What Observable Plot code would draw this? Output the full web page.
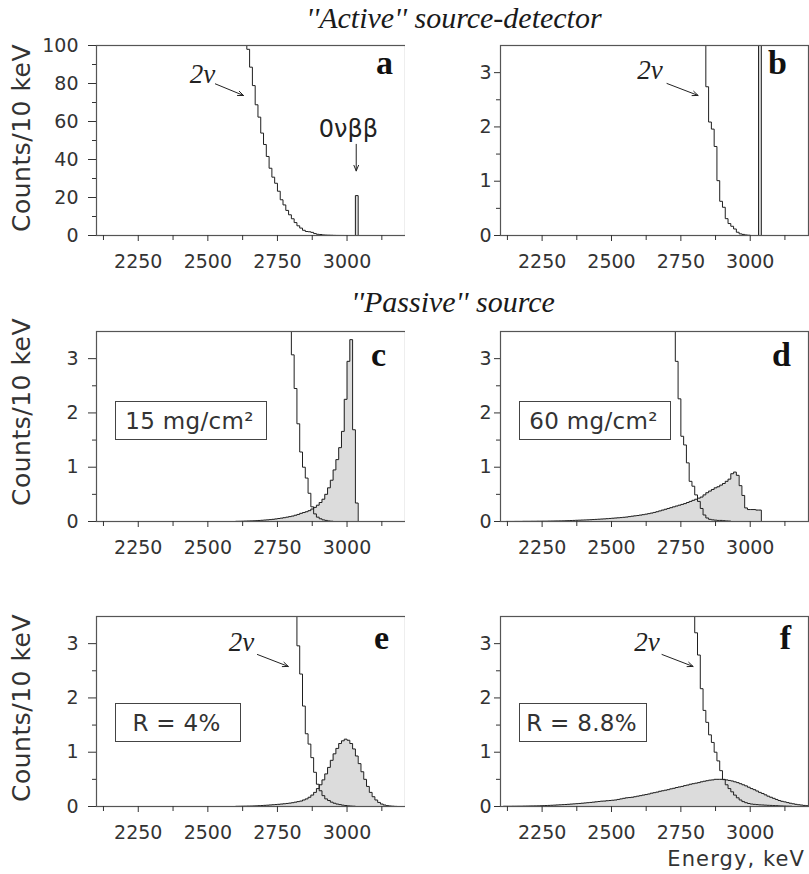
<!DOCTYPE html>
<html>
<head>
<meta charset="utf-8">
<script src="https://cdn.jsdelivr.net/npm/d3@7"></script>
<script src="https://cdn.jsdelivr.net/npm/@observablehq/plot@0.6"></script>
<style>
  html, body { margin: 0; padding: 0; background: #fff; }
  #chart { position: relative; width: 809px; height: 874px; overflow: hidden; background: #fff; }
  .title { position: absolute; width: 808px; text-align: center; font-family: "Liberation Serif", "Times New Roman", serif; font-style: italic; font-size: 30px; line-height: 1; color: #1a1a1a; white-space: nowrap; }
  .panel { position: absolute; }
  .panel svg { display: block; overflow: visible; }
  #xlabel { position: absolute; right: 4px; top: 849px; font-family: "DejaVu Sans", sans-serif; font-size: 21px; line-height: 1; letter-spacing: 1.1px; color: #333; white-space: nowrap; }
</style>
</head>
<body>
<div id="chart"></div>
<script>
// ---------- texts and ticks ----------
const titles = ["''Active'' source-detector", "''Passive'' source"];
const yLabel = "Counts/10 keV";
const xLabel = "Energy, keV";
const panelLetters = ["a", "b", "c", "d", "e", "f"];
const boxLabels = ["15 mg/cm²", "60 mg/cm²", "R = 4%", "R = 8.8%"];
const nuLabel = "2ν";
const zeroNuLabel = "0νββ";

const BIN = 10; // keV per histogram bin
const xDomain = [2100, 3210];
const xTickLabels = [2250, 2500, 2750, 3000];
const xMinorTicks = [2125, 2375, 2625, 2875, 3125];
const yTicks100 = [0, 20, 40, 60, 80, 100];
const yMinor100 = [10, 30, 50, 70, 90];
const yTicks35 = [0, 1, 2, 3];
const yMinor35 = [0.5, 1.5, 2.5];

// ---------- histogram data (counts per 10 keV bin, first bin edge given) ----------
// "Active" detector: 2nu spectrum (panels a, b)
const twoNuActiveStart = 2620;
const twoNuActiveCounts = [112, 104, 98, 88.6, 78.9, 68.8, 62.3, 53.9, 47.9, 41.6,
  35.4, 30.7, 27.5, 23.3, 18.8, 16.1, 13.2, 10.9, 8.8, 6.8,
  5.1, 3.9, 2.74, 2.09, 1.96, 1.64, 1.01, 0.63, 0.52, 0.31,
  0.22, 0.17, 0.12, 0.06, 0.03, 0.02, 0.01, 0.005];
// "Active" detector: 0nu peak
const zeroNuActiveStart = 3030;
const zeroNuActiveCounts = [21];

// Passive source 15 mg/cm2 (panel c)
const twoNu15Start = 2780;
const twoNu15Counts = [4.2, 3.8, 3.07, 2.45, 1.8, 1.28, 1.0, 0.8, 0.52, 0.27,
  0.14, 0.08, 0.05, 0.03, 0.02, 0.01, 0.005];
const zeroNu15Start = 2600;
const zeroNu15Counts = [0.003, 0.004, 0.005, 0.007, 0.009, 0.011, 0.013, 0.016, 0.019, 0.022,
  0.026, 0.03, 0.035, 0.04, 0.047, 0.055, 0.062, 0.07, 0.08, 0.09,
  0.1, 0.115, 0.13, 0.15, 0.165, 0.18, 0.2, 0.23, 0.26, 0.3,
  0.35, 0.41, 0.5, 0.62, 0.76, 0.95, 1.14, 1.36, 1.66, 2.25,
  2.95, 3.35, 1.69, 0.34];

// Passive source 60 mg/cm2 (panel d)
const twoNu60Start = 2710;
const twoNu60Counts = [4.3, 3.8, 2.95, 2.26, 1.57, 1.41, 1.08, 0.74, 0.65, 0.49,
  0.37, 0.24, 0.12, 0.065, 0.04, 0.03, 0.025, 0.02, 0.02, 0.015, 0.01, 0.008];
const zeroNu60Start = 2120;
const zeroNu60Counts = [0.001, 0.001, 0.001, 0.002, 0.002, 0.002, 0.003, 0.003, 0.003, 0.004,
  0.004, 0.005, 0.005, 0.006, 0.006, 0.007, 0.008, 0.009, 0.01, 0.011,
  0.012, 0.014, 0.016, 0.018, 0.02, 0.022, 0.024, 0.026, 0.028, 0.03,
  0.033, 0.036, 0.039, 0.042, 0.045, 0.048, 0.052, 0.056, 0.06, 0.064,
  0.068, 0.072, 0.077, 0.082, 0.09, 0.097, 0.104, 0.11, 0.118, 0.126,
  0.135, 0.145, 0.155, 0.167, 0.18, 0.195, 0.21, 0.225, 0.24, 0.255,
  0.27, 0.285, 0.3, 0.315, 0.33, 0.35, 0.37, 0.39, 0.41, 0.43,
  0.45, 0.49, 0.53, 0.56, 0.59, 0.62, 0.64, 0.67, 0.7, 0.74,
  0.78, 0.88, 0.91, 0.85, 0.66, 0.48, 0.25, 0.22, 0.22, 0.22,
  0.21, 0.21];

// Resolution R = 4% (panel e)
const twoNuR4Start = 2800;
const twoNuR4Counts = [4.2, 3.7, 2.96, 2.44, 1.85, 1.34, 1.15, 0.9, 0.63, 0.41,
  0.29, 0.2, 0.14, 0.11, 0.08, 0.06, 0.045, 0.035, 0.025, 0.018, 0.012, 0.008, 0.005];
const zeroNuR4Start = 2600;
const zeroNuR4Counts = [0.003, 0.004, 0.005, 0.006, 0.007, 0.008, 0.01, 0.012, 0.015, 0.018,
  0.021, 0.024, 0.028, 0.032, 0.036, 0.04, 0.045, 0.05, 0.056, 0.062,
  0.07, 0.08, 0.09, 0.1, 0.12, 0.14, 0.17, 0.21, 0.26, 0.33,
  0.4, 0.49, 0.6, 0.72, 0.85, 0.97, 1.07, 1.16, 1.21, 1.24,
  1.22, 1.16, 1.06, 0.93, 0.79, 0.64, 0.5, 0.37, 0.26, 0.18,
  0.12, 0.075, 0.045, 0.027, 0.016, 0.009, 0.005, 0.002];

// Resolution R = 8.8% (panel f)
const twoNuR88Start = 2780;
const twoNuR88Counts = [4.3, 3.8, 3.2, 2.79, 2.17, 1.77, 1.55, 1.32, 1.18, 1.0,
  0.84, 0.66, 0.5, 0.4, 0.33, 0.27, 0.21, 0.16, 0.12, 0.09,
  0.07, 0.055, 0.045, 0.04, 0.035, 0.03, 0.028, 0.025, 0.022, 0.02,
  0.017, 0.015, 0.012, 0.01, 0.008, 0.006, 0.005];
const zeroNuR88Start = 2110;
const zeroNuR88Counts = [0.004, 0.004, 0.004, 0.005, 0.005, 0.006, 0.006, 0.007, 0.008, 0.009, 0.01,
  0.011, 0.012, 0.014, 0.016, 0.018, 0.02, 0.022, 0.025, 0.028, 0.031,
  0.034, 0.037, 0.04, 0.044, 0.048, 0.052, 0.056, 0.06, 0.065, 0.07,
  0.075, 0.08, 0.086, 0.092, 0.098, 0.1, 0.106, 0.11, 0.115, 0.12,
  0.13, 0.14, 0.15, 0.16, 0.165, 0.17, 0.18, 0.19, 0.2, 0.21,
  0.22, 0.23, 0.245, 0.255, 0.265, 0.28, 0.29, 0.3, 0.31, 0.325,
  0.335, 0.35, 0.36, 0.37, 0.385, 0.395, 0.41, 0.42, 0.43, 0.44,
  0.455, 0.465, 0.475, 0.485, 0.49, 0.5, 0.5, 0.5, 0.495, 0.49,
  0.48, 0.47, 0.455, 0.44, 0.42, 0.4, 0.38, 0.355, 0.33, 0.31,
  0.285, 0.26, 0.24, 0.215, 0.19, 0.17, 0.15, 0.13, 0.11, 0.095,
  0.085, 0.072, 0.06, 0.05, 0.04, 0.032, 0.026, 0.02, 0.015];

// ---------- annotation anchors (data units) ----------
const nuArrowA = [{tx: 2481, ty: 80.5, x1: 2527, y1: 79.8, x2: 2628, y2: 73.7}];
const zeroNuArrowA = [{tx: 3005, ty: 51.6, x1: 3033, y1: 48, x2: 3033, y2: 34}];
const nuArrowB = [{tx: 2639, ty: 2.89, x1: 2700, y1: 2.8, x2: 2812, y2: 2.58}];
const nuArrowE = [{tx: 2621, ty: 2.87, x1: 2678, y1: 2.8, x2: 2789, y2: 2.58}];
const nuArrowF = [{tx: 2628, ty: 2.87, x1: 2682, y1: 2.8, x2: 2794, y2: 2.58}];

// ---------- layout ----------
const rowTops = [35, 321, 606];
const yLabelShift = [-2, -14, -3];
const cols = [
  {left: 0, width: 410, ml: 96, mr: 5, yTickSize: 8, yTickPad: 10},
  {left: 405, width: 404, ml: 95, mr: 1, yTickSize: 6, yTickPad: 3}
];

const H = (start, counts, closed) => ({start, counts, closed});

const panels = [
  {col: 0, row: 0, letter: panelLetters[0], ldx: -21, ldy: 28, yDomain: [0, 100], yTicks: yTicks100, yMinor: yMinor100,
   filled: [H(zeroNuActiveStart, zeroNuActiveCounts)],
   lines: [H(twoNuActiveStart, twoNuActiveCounts, false), H(zeroNuActiveStart, zeroNuActiveCounts, true)],
   arrows: [[nuArrowA, nuLabel, "serif"], [zeroNuArrowA, zeroNuLabel, "sans"]]},
  {col: 1, row: 0, letter: panelLetters[1], ldx: -31, ldy: 28, yDomain: [0, 3.5], yTicks: yTicks35, yMinor: yMinor35,
   filled: [H(zeroNuActiveStart, zeroNuActiveCounts)],
   lines: [H(twoNuActiveStart, twoNuActiveCounts, false), H(zeroNuActiveStart, zeroNuActiveCounts, true)],
   arrows: [[nuArrowB, nuLabel, "serif"]]},
  {col: 0, row: 1, letter: panelLetters[2], ldx: -27, ldy: 34, yDomain: [0, 3.5], yTicks: yTicks35, yMinor: yMinor35,
   filled: [H(zeroNu15Start, zeroNu15Counts)],
   lines: [H(twoNu15Start, twoNu15Counts, false), H(zeroNu15Start, zeroNu15Counts, true)],
   arrows: [], box: {text: boxLabels[0], top: 70, w: 151}},
  {col: 1, row: 1, letter: panelLetters[3], ldx: -27, ldy: 34, yDomain: [0, 3.5], yTicks: yTicks35, yMinor: yMinor35,
   filled: [H(zeroNu60Start, zeroNu60Counts)],
   lines: [H(twoNu60Start, twoNu60Counts, false), H(zeroNu60Start, zeroNu60Counts, true)],
   arrows: [], box: {text: boxLabels[1], top: 70, w: 151}},
  {col: 0, row: 2, letter: panelLetters[4], ldx: -24, ldy: 32, yDomain: [0, 3.5], yTicks: yTicks35, yMinor: yMinor35,
   filled: [H(zeroNuR4Start, zeroNuR4Counts)],
   lines: [H(twoNuR4Start, twoNuR4Counts, false), H(zeroNuR4Start, zeroNuR4Counts, true)],
   arrows: [[nuArrowE, nuLabel, "serif"]], box: {text: boxLabels[2], top: 87, w: 125}},
  {col: 1, row: 2, letter: panelLetters[5], ldx: -23, ldy: 32, yDomain: [0, 3.5], yTicks: yTicks35, yMinor: yMinor35,
   filled: [H(zeroNuR88Start, zeroNuR88Counts)],
   lines: [H(twoNuR88Start, twoNuR88Counts, false), H(zeroNuR88Start, zeroNuR88Counts, true)],
   arrows: [[nuArrowF, nuLabel, "serif"]], box: {text: boxLabels[3], top: 87, w: 127}}
];

// build step-histogram outline points from bins
function histPoints(start, counts, closeLeft) {
  const pts = [];
  if (closeLeft) pts.push({e: start, c: 0});
  counts.forEach((c, i) => pts.push({e: start + i * BIN, c}));
  const end = start + counts.length * BIN;
  pts.push({e: end, c: counts[counts.length - 1]});
  pts.push({e: end, c: 0});
  return pts;
}

function decorations(p) {
  return (index, scales, values, dims) => {
    const g = d3.create("svg:g");
    const fl = dims.marginLeft, ft = dims.marginTop;
    const fh = dims.height - dims.marginTop - dims.marginBottom;
    if (p.col === 0) {
      g.append("text")
        .attr("transform", `translate(30,${ft + fh / 2 + yLabelShift[p.row]}) rotate(-90)`)
        .attr("text-anchor", "middle")
        .attr("font-family", "DejaVu Sans, sans-serif")
        .attr("font-size", 25)
        .attr("letter-spacing", "0.5px")
        .attr("fill", "#333")
        .text(yLabel);
    }
    if (p.box) {
      g.append("rect")
        .attr("x", fl + 19.5).attr("y", ft + p.box.top + 0.5)
        .attr("width", p.box.w).attr("height", 38)
        .attr("fill", "none").attr("stroke", "#444").attr("stroke-width", 1);
      g.append("text")
        .attr("x", fl + 19 + p.box.w / 2 - 1).attr("y", ft + p.box.top + 28)
        .attr("text-anchor", "middle")
        .attr("font-family", "DejaVu Sans, sans-serif")
        .attr("font-size", 23)
        .attr("letter-spacing", "0.3px")
        .attr("fill", "#333")
        .text(p.box.text);
    }
    return g.node();
  };
}

function makePanel(p) {
  const col = cols[p.col];
  const marks = [];
  for (const h of p.filled) {
    marks.push(Plot.areaY(histPoints(h.start, h.counts, true),
      {x: "e", y: "c", curve: "step-after", fill: "#dcdcdc", clip: true}));
  }
  for (const h of p.lines) {
    marks.push(Plot.line(histPoints(h.start, h.counts, h.closed),
      {x: "e", y: "c", curve: "step-after", stroke: "#1f1f1f", strokeWidth: 1, clip: true}));
  }
  marks.push(Plot.frame({stroke: "#555", strokeWidth: 1.2}));
  marks.push(Plot.axisX({ticks: xTickLabels, tickSize: 6, tickPadding: 13, tickFormat: d => String(d), fontSize: 19, label: null}));
  marks.push(Plot.axisX({ticks: xMinorTicks, tickSize: 5, tickFormat: () => "", label: null}));
  marks.push(Plot.axisY({ticks: p.yTicks, tickSize: col.yTickSize, tickPadding: col.yTickPad, tickFormat: d => String(d), fontSize: 19, label: null}));
  marks.push(Plot.axisY({ticks: p.yMinor, tickSize: 4, tickFormat: () => "", label: null}));
  for (const [anchor, label, kind] of p.arrows) {
    marks.push(Plot.text(anchor, {
      x: "tx", y: "ty", text: () => label, textAnchor: "middle", lineAnchor: "bottom",
      fontFamily: kind === "serif" ? "Liberation Serif, Times New Roman, serif" : "DejaVu Sans, sans-serif",
      fontStyle: kind === "serif" ? "italic" : "normal",
      fontSize: kind === "serif" ? 27 : 24, fill: "#222"
    }));
    marks.push(Plot.arrow(anchor, {x1: "x1", y1: "y1", x2: "x2", y2: "y2", stroke: "#222", strokeWidth: 1, headLength: 9, headAngle: 45}));
  }
  marks.push(Plot.text([p.letter], {
    frameAnchor: "top-right", dx: p.ldx, dy: p.ldy, text: d => d,
    textAnchor: "middle", lineAnchor: "bottom",
    fontFamily: "Liberation Serif, Times New Roman, serif", fontWeight: "bold", fontSize: 34, fill: "#111"
  }));
  marks.push(decorations(p));

  return Plot.plot({
    width: col.width, height: 240,
    marginLeft: col.ml, marginRight: col.mr, marginTop: 10, marginBottom: 40,
    x: {domain: xDomain, label: null},
    y: {domain: p.yDomain, label: null},
    style: {fontFamily: "DejaVu Sans, sans-serif", fontSize: "19px", color: "#333", background: "white", overflow: "visible"},
    marks
  });
}

const chart = document.getElementById("chart");
function addTitle(text, left, top) {
  const d = document.createElement("div");
  d.className = "title";
  d.style.left = left + "px";
  d.style.top = top + "px";
  d.textContent = text;
  chart.appendChild(d);
}
addTitle(titles[0], 50, 3);
addTitle(titles[1], 49, 287);

for (const p of panels) {
  const col = cols[p.col];
  const div = document.createElement("div");
  div.className = "panel";
  div.style.left = col.left + "px";
  div.style.top = rowTops[p.row] + "px";
  div.appendChild(makePanel(p));
  chart.appendChild(div);
}

const xl = document.createElement("div");
xl.id = "xlabel";
xl.textContent = xLabel;
chart.appendChild(xl);
</script>
</body>
</html>
